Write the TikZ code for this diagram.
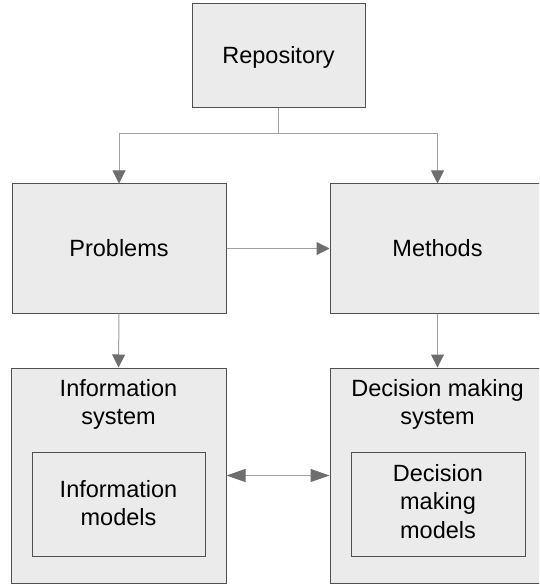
\documentclass[tikz,border=0pt]{standalone}
\usepackage{fontspec}
\setmainfont{Liberation Sans}
\usetikzlibrary{arrows.meta}
\definecolor{boxfill}{HTML}{EBEBEB}
\definecolor{boxline}{HTML}{505050}
\definecolor{conline}{HTML}{A0A0A0}
\definecolor{headcol}{HTML}{6E6E6E}
\tikzset{
  box/.style={draw=boxline, fill=boxfill, line width=1pt, inner sep=0pt},
  lbl/.style={font=\fontsize{23.5}{28.5}\selectfont, align=center, inner sep=0pt, text=black},
  con/.style={draw=conline, line width=1pt},
  arr/.style={con, -{Triangle[length=13pt,width=13pt,color=headcol]}},
  darr/.style={con, {Triangle[length=19pt,width=13pt,color=headcol]}-{Triangle[length=19pt,width=13pt,color=headcol]}}
}
\begin{document}
\begin{tikzpicture}[x=1pt,y=-1pt]
\useasboundingbox (0,0) rectangle (539,585);
\clip (0,0) rectangle (539,585);
% boxes
\node[box, minimum width=173pt, minimum height=104pt] (repo) at (278.5,56) {};
\node[box, minimum width=214pt, minimum height=129pt] (prob) at (119,248.5) {};
\node[box, minimum width=215pt, minimum height=129pt] (meth) at (437.5,248.5) {};
\node[box, minimum width=215pt, minimum height=215pt] (info) at (118.5,475.5) {};
\node[box, minimum width=215pt, minimum height=215pt] (dms) at (437.5,475.5) {};
\node[box, minimum width=173pt, minimum height=104pt] (infom) at (118.5,504) {};
\node[box, minimum width=174pt, minimum height=104pt] (dmsm) at (438,504) {};
% labels
\node[lbl, anchor=base] (trepo) at (278.5,63.3) {Repository};
\node[lbl, anchor=base] (tprob) at (119,256) {Problems};
\node[lbl, anchor=base] (tmeth) at (437.5,256) {Methods};
\node[lbl, anchor=north] (tinfo) at (118.5,379.2) {Information\\system};
\node[lbl, anchor=north] (tdms) at (437.5,379.2) {Decision making\\system};
\node[lbl, anchor=north] (tinfom) at (118.5,480.2) {Information\\models};
\node[lbl, anchor=north] (tdmsm) at (438,464.2) {Decision\\making\\models};
% connectors
\coordinate (j) at (278.5,134);
\draw[con] (repo.south) -- (j);
\draw[arr] (j) -| (prob.north);
\draw[arr] (j) -| (meth.north);
\draw[arr] (prob.east) -- (meth.west);
\draw[arr] (prob.south) -- (info.north);
\draw[arr] (meth.south) -- (dms.north);
\draw[darr] (info.east) -- (dms.west);
\end{tikzpicture}
\end{document}
